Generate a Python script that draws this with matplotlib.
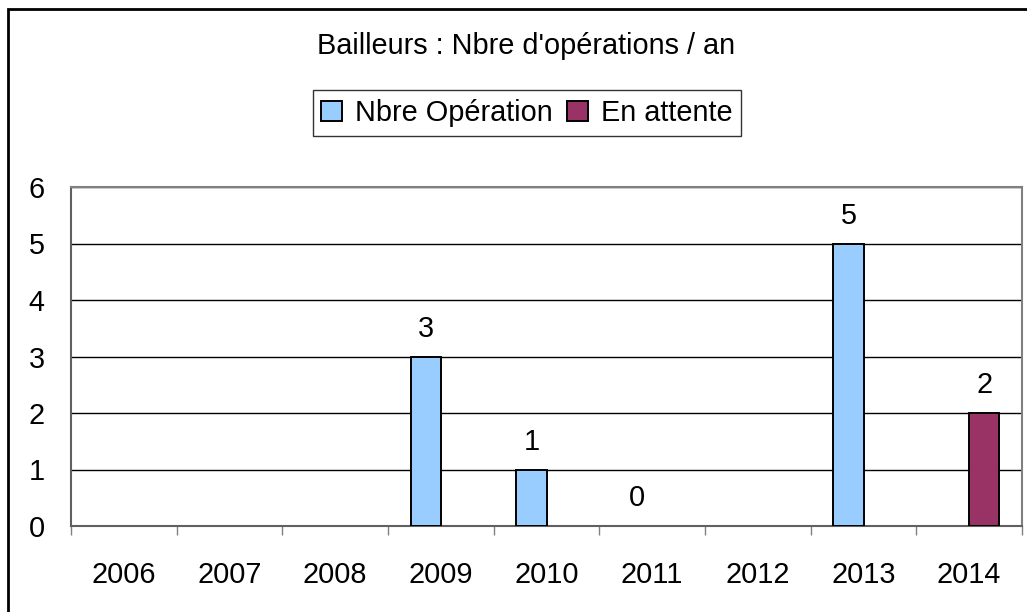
import matplotlib
matplotlib.use('Agg')
import matplotlib.pyplot as plt
import matplotlib.patches as mpatches
import numpy as np

plt.rcParams['font.family'] = ['Liberation Sans', 'DejaVu Sans']

BLUE = '#99CCFF'
MAROON = '#993366'
FRAME = '#808080'

years = ['2006', '2007', '2008', '2009', '2010', '2011', '2012', '2013', '2014']
nbre_operation = [np.nan, np.nan, np.nan, 3, 1, 0, np.nan, 5, np.nan]
en_attente = [np.nan, np.nan, np.nan, np.nan, np.nan, np.nan, np.nan, np.nan, 2]
series_names = ['Nbre Opération', 'En attente']

FS = 20.8
x = np.arange(len(years))
w = 0.284

fig = plt.figure(figsize=(10.27, 6.12), dpi=100)
fig.patch.set_facecolor('white')
ax = fig.add_axes([71 / 1027, 86 / 612, 951 / 1027, 339 / 612])

b1 = ax.bar(x - w / 2, nbre_operation, width=w, color=BLUE,
            edgecolor='black', linewidth=1.4, zorder=3, label=series_names[0])
b2 = ax.bar(x + w / 2, en_attente, width=w, color=MAROON,
            edgecolor='black', linewidth=1.4, zorder=3, label=series_names[1])

# value labels; zero-height bars get no outline
for bars, vals in ((b1, nbre_operation), (b2, en_attente)):
    for bar, v in zip(bars, vals):
        if np.isnan(v):
            continue
        if v == 0:
            bar.set_linewidth(0)
        ax.annotate(f'{v:g}', (bar.get_x() + bar.get_width() / 2, v),
                    xytext=(0, 20), textcoords='offset points',
                    ha='center', va='center', fontsize=FS, color='black')

ax.set_xlim(-0.5, len(years) - 0.5)
ax.set_ylim(0, 6)
ax.set_yticks(range(0, 7))
ax.tick_params(axis='y', length=0, pad=19, labelsize=FS)
ax.set_xticks(x)
ax.set_xticklabels(years)
ax.tick_params(axis='x', which='major', length=0, pad=25, labelsize=FS)
ax.set_xticks(np.arange(-0.5, len(years)), minor=True)
ax.tick_params(axis='x', which='minor', length=6.5, width=1, color=FRAME,
               direction='out')

ax.grid(axis='y', color='black', linewidth=1, zorder=0)
ax.set_axisbelow(True)
for s in ax.spines.values():
    s.set_color(FRAME)
    s.set_linewidth(1.5)
ax.spines['left'].set_color('#606060')
ax.spines['bottom'].set_color('#606060')

fig.text(526 / 1027, 1 - 46 / 612, "Bailleurs : Nbre d'opérations / an",
         ha='center', va='center', fontsize=FS)

leg = fig.legend(handles=[b1, b2], loc='center', ncol=2,
                 bbox_to_anchor=(527 / 1027, 1 - 113 / 612),
                 fontsize=FS, frameon=True, fancybox=False, shadow=False,
                 handlelength=0.72, handleheight=0.72, handletextpad=0.45,
                 columnspacing=0.5, borderpad=0.3, borderaxespad=0)
leg.get_frame().set_edgecolor('black')
leg.get_frame().set_linewidth(1)

# outer chart border (cut off on right and bottom like the source)
fig.add_artist(mpatches.Rectangle((7.5 / 1027, -0.1), 1.2, 1.1 - 8.5 / 612,
                                  transform=fig.transFigure, fill=False,
                                  edgecolor='black', linewidth=2, clip_on=False))

fig.savefig('out.png', dpi=100, facecolor='white')
plt.close(fig)
